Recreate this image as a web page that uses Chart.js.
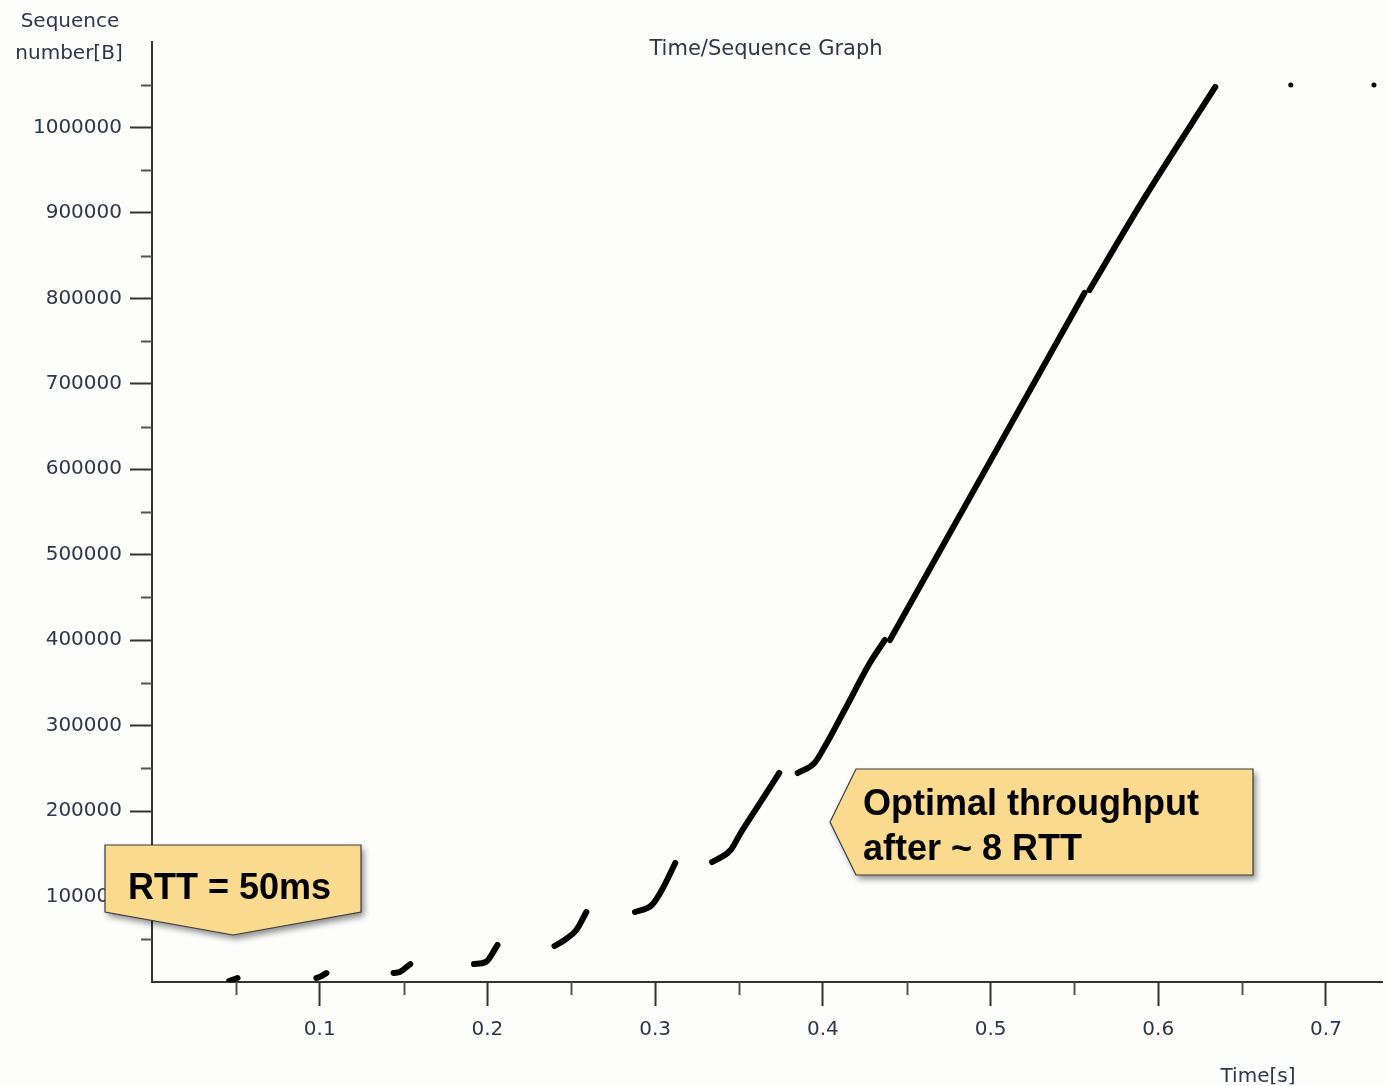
<!DOCTYPE html>
<html lang="en">
<head>
  <meta charset="UTF-8" />
  <title>Time/Sequence Graph</title>
  <script src="https://cdn.jsdelivr.net/npm/chart.js"></script>
  <style>
    html, body {
      margin: 0;
      padding: 0;
      background: #fdfdfc;
    }

    .chart-container {
      width: 1386px;
      height: 1086px;
    }
  </style>
</head>
<body>
  <div class="chart-container">
    <canvas id="seqChart"></canvas>
  </div>

  <script>
    // bursts of segments sent each round trip (time in s, sequence number in bytes)
    const burstTimes = [
      [0.046, 0.051],
      [0.098, 0.100, 0.104],
      [0.144, 0.148, 0.154],
      [0.192, 0.199, 0.206],
      [0.240, 0.246, 0.253, 0.259],
      [0.288, 0.298, 0.304, 0.312],
      [0.334, 0.345, 0.351, 0.361, 0.374],
      [0.385, 0.395, 0.401, 0.413, 0.428, 0.437],
      [0.440, 0.556],
      [0.559, 0.591, 0.634]
    ];
    const burstSeqs = [
      [1000, 4700],
      [4700, 6000, 10500],
      [10500, 12000, 21000],
      [21000, 23400, 43300],
      [42100, 49200, 60900, 81900],
      [81900, 90100, 107700, 139300],
      [140400, 154500, 174400, 204800, 244600],
      [244600, 256300, 275000, 318300, 373300, 400200],
      [400200, 806300],
      [809800, 915200, 1047400]
    ];
    const lateTimes = [0.679, 0.7286];
    const lateSeqs = [1049700, 1049700];

    const xMajorTicks = [0.1, 0.2, 0.3, 0.4, 0.5, 0.6, 0.7];
    const xMinorTicks = [0.05, 0.15, 0.25, 0.35, 0.45, 0.55, 0.65];
    const yMajorTicks = [100000, 200000, 300000, 400000, 500000, 600000, 700000, 800000, 900000, 1000000];
    const yMinorTicks = [50000, 150000, 250000, 350000, 450000, 550000, 650000, 750000, 850000, 950000, 1050000];

    const axisColor = '#333';
    const labelColor = '#30354a';
    const labelFont = { family: 'DejaVu Sans', size: 20 };

    const datasets = burstTimes.map((times, i) => ({
      data: times.map((t, j) => ({ x: t, y: burstSeqs[i][j] })),
      showLine: true,
      borderColor: '#000',
      backgroundColor: '#000',
      borderWidth: 6,
      borderCapStyle: 'round',
      borderJoinStyle: 'round',
      cubicInterpolationMode: 'monotone',
      pointRadius: 0
    }));
    datasets.push({
      data: lateTimes.map((t, j) => ({ x: t, y: lateSeqs[j] })),
      showLine: false,
      backgroundColor: '#000',
      borderWidth: 0,
      pointRadius: 2.5
    });

    function callout(ctx, pts) {
      ctx.save();
      ctx.beginPath();
      pts.forEach(([x, y], i) => (i ? ctx.lineTo(x, y) : ctx.moveTo(x, y)));
      ctx.closePath();
      ctx.shadowColor = 'rgba(0, 0, 0, 0.45)';
      ctx.shadowBlur = 6;
      ctx.shadowOffsetX = 3;
      ctx.shadowOffsetY = 4;
      ctx.fillStyle = '#f9da8e';
      ctx.fill();
      ctx.shadowColor = 'transparent';
      ctx.strokeStyle = '#3a3a3a';
      ctx.lineWidth = 1.2;
      ctx.stroke();
      ctx.restore();
    }

    const decorPlugin = {
      id: 'decor',
      afterDraw(chart) {
        const ctx = chart.ctx;
        const xs = chart.scales.x;
        const ys = chart.scales.y;
        const area = chart.chartArea;

        // minor ticks
        ctx.save();
        ctx.lineWidth = 2;
        ctx.strokeStyle = '#555';
        xMinorTicks.forEach(v => {
          const px = Math.round(xs.getPixelForValue(v)) + 0.5;
          ctx.beginPath();
          ctx.moveTo(px, area.bottom);
          ctx.lineTo(px, area.bottom + 13);
          ctx.stroke();
        });
        yMinorTicks.forEach(v => {
          const py = Math.round(ys.getPixelForValue(v)) + 0.5;
          ctx.beginPath();
          ctx.moveTo(area.left - 11, py);
          ctx.lineTo(area.left, py);
          ctx.stroke();
        });

        // axis titles and graph title
        ctx.fillStyle = labelColor;
        ctx.font = '20px "DejaVu Sans"';
        ctx.textAlign = 'center';
        ctx.textBaseline = 'alphabetic';
        ctx.fillText('Sequence', 70, 27);
        ctx.fillText('number[B]', 69, 59);
        ctx.font = '21px "DejaVu Sans"';
        ctx.fillText('Time/Sequence Graph', 766, 55);
        ctx.font = '20px "DejaVu Sans"';
        ctx.fillText('Time[s]', 1258, 1082);
        ctx.restore();

        // callouts
        callout(ctx, [[105, 845], [361, 845], [361, 912], [233, 935], [105, 912]]);
        callout(ctx, [[830, 822], [856, 769], [1253, 769], [1253, 875], [856, 875]]);

        ctx.save();
        ctx.fillStyle = '#000';
        ctx.font = 'bold 36px "Liberation Sans"';
        ctx.textAlign = 'left';
        ctx.textBaseline = 'alphabetic';
        ctx.fillText('RTT = 50ms', 128, 899);
        ctx.fillText('Optimal throughput', 863, 815);
        ctx.fillText('after ~ 8 RTT', 863, 860);
        ctx.restore();
      }
    };

    const ctx = document.getElementById('seqChart').getContext('2d');

    new Chart(ctx, {
      type: 'scatter',
      data: { datasets: datasets },
      options: {
        responsive: true,
        maintainAspectRatio: false,
        animation: false,
        layout: {
          padding: { top: 42, right: 0, left: 0, bottom: 0 }
        },
        plugins: {
          legend: { display: false },
          tooltip: { enabled: false }
        },
        scales: {
          x: {
            type: 'linear',
            min: 0,
            max: 0.7334,
            afterFit: (s) => { s.height = 104; },
            afterBuildTicks: (s) => { s.ticks = xMajorTicks.map(v => ({ value: v })); },
            border: { display: true, color: axisColor, width: 2 },
            grid: {
              drawOnChartArea: false,
              drawTicks: true,
              tickLength: 24,
              tickWidth: 2,
              tickColor: axisColor
            },
            ticks: {
              color: labelColor,
              font: labelFont,
              padding: 12,
              maxRotation: 0,
              autoSkip: false,
              callback: (v) => v.toFixed(1)
            }
          },
          y: {
            type: 'linear',
            min: 0,
            max: 1100000,
            afterFit: (s) => { s.width = 152; },
            afterBuildTicks: (s) => { s.ticks = yMajorTicks.map(v => ({ value: v })); },
            border: { display: true, color: axisColor, width: 2 },
            grid: {
              drawOnChartArea: false,
              drawTicks: true,
              tickLength: 22,
              tickWidth: 2,
              tickColor: axisColor
            },
            ticks: {
              color: labelColor,
              font: labelFont,
              padding: 8,
              autoSkip: false,
              callback: (v) => String(v)
            }
          }
        }
      },
      plugins: [decorPlugin]
    });
  </script>
</body>
</html>
